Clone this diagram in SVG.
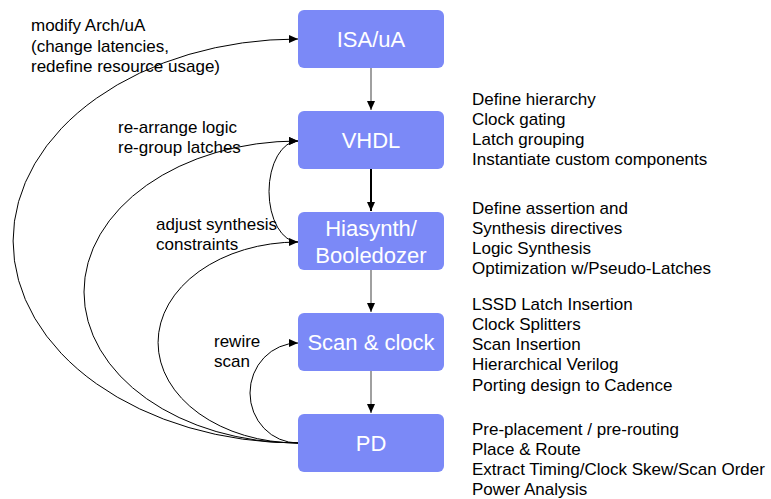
<svg xmlns="http://www.w3.org/2000/svg" width="771" height="499" viewBox="0 0 771 499">
  <style>
    .box { fill: #7b89f7; }
    .blabel { font-family: "Liberation Sans", Arial, sans-serif; font-size: 22px; fill: #ffffff; text-anchor: middle; }
    .note { font-family: "Liberation Sans", Arial, sans-serif; font-size: 17px; fill: #000000; }
    .curve { fill: none; stroke: #000000; stroke-width: 1; }
    .down { fill: none; stroke: #808080; stroke-width: 1.5; }
    .down-dark { fill: none; stroke: #000000; stroke-width: 2; }
  </style>
  <defs>
    <marker id="arrow" markerUnits="userSpaceOnUse" markerWidth="10" markerHeight="8" refX="9" refY="4" orient="auto">
      <path d="M0,0 L9,4 L0,8 Z" fill="#000000"/>
    </marker>
  </defs>
  <rect width="771" height="499" fill="#ffffff"/>

  <!-- feedback loops and flow arrows -->
  <g id="connectors">
    <path class="down" d="M371 68 V110" marker-end="url(#arrow)"/>
    <path class="down-dark" d="M371 169 V211" marker-end="url(#arrow)"/>
    <path class="down" d="M371 270 V312" marker-end="url(#arrow)"/>
    <path class="down" d="M371 371 V413" marker-end="url(#arrow)"/>

    <path class="curve" d="M298 443 A285 202 0 0 1 298 39" marker-end="url(#arrow)"/>
    <path class="curve" d="M298 443 A214 151 0 0 1 298 141" marker-end="url(#arrow)"/>
    <path class="curve" d="M298 443 A140 100.5 0 0 1 298 242" marker-end="url(#arrow)"/>
    <path class="curve" d="M298 443 A48 50 0 0 1 298 343" marker-end="url(#arrow)"/>
    <path class="curve" d="M298 242 A29 50.5 0 0 1 298 141" marker-end="url(#arrow)"/>
  </g>

  <g id="isa">
    <rect class="box" x="298" y="10" width="146" height="58" rx="6"/>
    <text class="blabel" x="371" y="47">ISA/uA</text>
  </g>
  <g id="vhdl">
    <rect class="box" x="298" y="111" width="146" height="58" rx="6"/>
    <text class="blabel" x="371" y="148">VHDL</text>
  </g>
  <g id="synth">
    <rect class="box" x="298" y="212" width="146" height="58" rx="6"/>
    <text class="blabel" x="371" y="236">Hiasynth/</text>
    <text class="blabel" x="371" y="263">Booledozer</text>
  </g>
  <g id="scan">
    <rect class="box" x="298" y="313" width="146" height="58" rx="6"/>
    <text class="blabel" x="371" y="350">Scan &amp; clock</text>
  </g>
  <g id="pd">
    <rect class="box" x="298" y="414" width="146" height="58" rx="6"/>
    <text class="blabel" x="371" y="451">PD</text>
  </g>

  <!-- loop labels -->
  <g id="loop-labels">
    <text class="note" x="31" y="31">modify Arch/uA</text>
    <text class="note" x="31" y="52">(change latencies,</text>
    <text class="note" x="31" y="72">redefine resource usage)</text>
    <text class="note" x="118" y="133">re-arrange logic</text>
    <text class="note" x="118" y="153">re-group latches</text>
    <text class="note" x="156" y="230">adjust synthesis</text>
    <text class="note" x="156" y="250">constraints</text>
    <text class="note" x="214" y="347">rewire</text>
    <text class="note" x="214" y="367">scan</text>
  </g>

  <!-- stage task lists -->
  <g id="tasks">
    <text class="note" x="472" y="105">Define hierarchy</text>
    <text class="note" x="472" y="125">Clock gating</text>
    <text class="note" x="472" y="145">Latch grouping</text>
    <text class="note" x="472" y="165">Instantiate custom components</text>

    <text class="note" x="472" y="214">Define assertion and</text>
    <text class="note" x="472" y="234">Synthesis directives</text>
    <text class="note" x="472" y="254">Logic Synthesis</text>
    <text class="note" x="472" y="274">Optimization w/Pseudo-Latches</text>

    <text class="note" x="472" y="310">LSSD Latch Insertion</text>
    <text class="note" x="472" y="330">Clock Splitters</text>
    <text class="note" x="472" y="350">Scan Insertion</text>
    <text class="note" x="472" y="370">Hierarchical Verilog</text>
    <text class="note" x="472" y="391">Porting design to Cadence</text>

    <text class="note" x="472" y="435">Pre-placement / pre-routing</text>
    <text class="note" x="472" y="455">Place &amp; Route</text>
    <text class="note" x="472" y="475">Extract Timing/Clock Skew/Scan Order</text>
    <text class="note" x="472" y="495">Power Analysis</text>
  </g>
</svg>
